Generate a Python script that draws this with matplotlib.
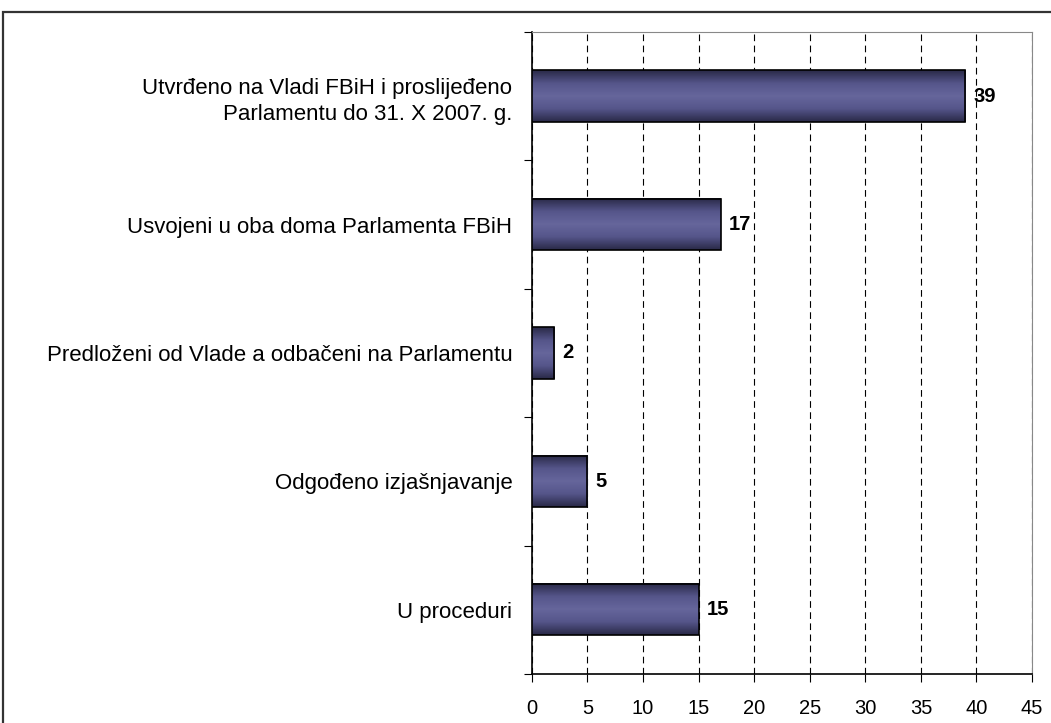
import numpy as np
import matplotlib.pyplot as plt
from matplotlib.colors import LinearSegmentedColormap
from matplotlib.patches import Rectangle

# Podaci
kategorije = [
    "Utvrđeno na Vladi FBiH i proslijeđeno\nParlamentu do 31. X 2007. g.",
    "Usvojeni u oba doma Parlamenta FBiH",
    "Predloženi od Vlade a odbačeni na Parlamentu",
    "Odgođeno izjašnjavanje",
    "U proceduri",
]
vrijednosti = [39, 17, 2, 5, 15]
x_ticks = [0, 5, 10, 15, 20, 25, 30, 35, 40, 45]

plt.rcParams['font.family'] = ['Liberation Sans', 'DejaVu Sans']

fig = plt.figure(figsize=(10.51, 7.23), dpi=100)
ax = fig.add_axes([0.506, 0.0678, 0.476, 0.888])

# okvir oko cijele slike
fig.patches.append(Rectangle((0.003, -0.05), 1.1, 1.034, transform=fig.transFigure,
                             fill=False, edgecolor='#333333', linewidth=1.6))

n = len(kategorije)
pos = np.arange(n)
visina = 0.4

# gradijent za stupce (tamno na rubovima, svjetlije u sredini)
cmap = LinearSegmentedColormap.from_list("bar", ["#2a2a48", "#55558a", "#66669c", "#55558a", "#2a2a48"])
grad = np.linspace(0, 1, 64).reshape(-1, 1)

for p, v in zip(pos, vrijednosti):
    ax.imshow(grad, extent=(0, v, p + visina / 2, p - visina / 2), cmap=cmap,
              aspect='auto', zorder=3, interpolation='bicubic')
    ax.add_patch(Rectangle((0, p - visina / 2), v, visina, fill=False,
                           edgecolor='black', linewidth=1.2, zorder=4))
    ax.text(v + 0.7, p, str(v), va='center', ha='left', fontsize=14.5,
            fontweight='bold', zorder=5)

ax.set_xlim(0, 45)
ax.set_ylim(n - 0.5, -0.5)
ax.set_xticks(x_ticks)
ax.tick_params(axis='x', labelsize=14.5, length=6, pad=12, direction='out')

# kvačice na granicama kategorija, nazivi u sredini
ax.set_yticks(np.arange(n + 1) - 0.5)
ax.set_yticklabels([])
ax.set_yticks(pos, minor=True)
ax.set_yticklabels(kategorije, minor=True, fontsize=16, ha='right', linespacing=1.35)
ax.tick_params(axis='y', which='major', length=6, direction='out')
ax.tick_params(axis='y', which='minor', length=0, pad=14)

ax.xaxis.grid(True, color='black', linestyle=(0, (6, 4)), linewidth=0.8, zorder=0)
ax.set_axisbelow(True)

ax.spines['top'].set_color('#888888')
ax.spines['right'].set_color('#888888')
ax.spines['left'].set_linewidth(1.2)
ax.spines['bottom'].set_linewidth(1.2)

fig.savefig("out.png", dpi=100)
